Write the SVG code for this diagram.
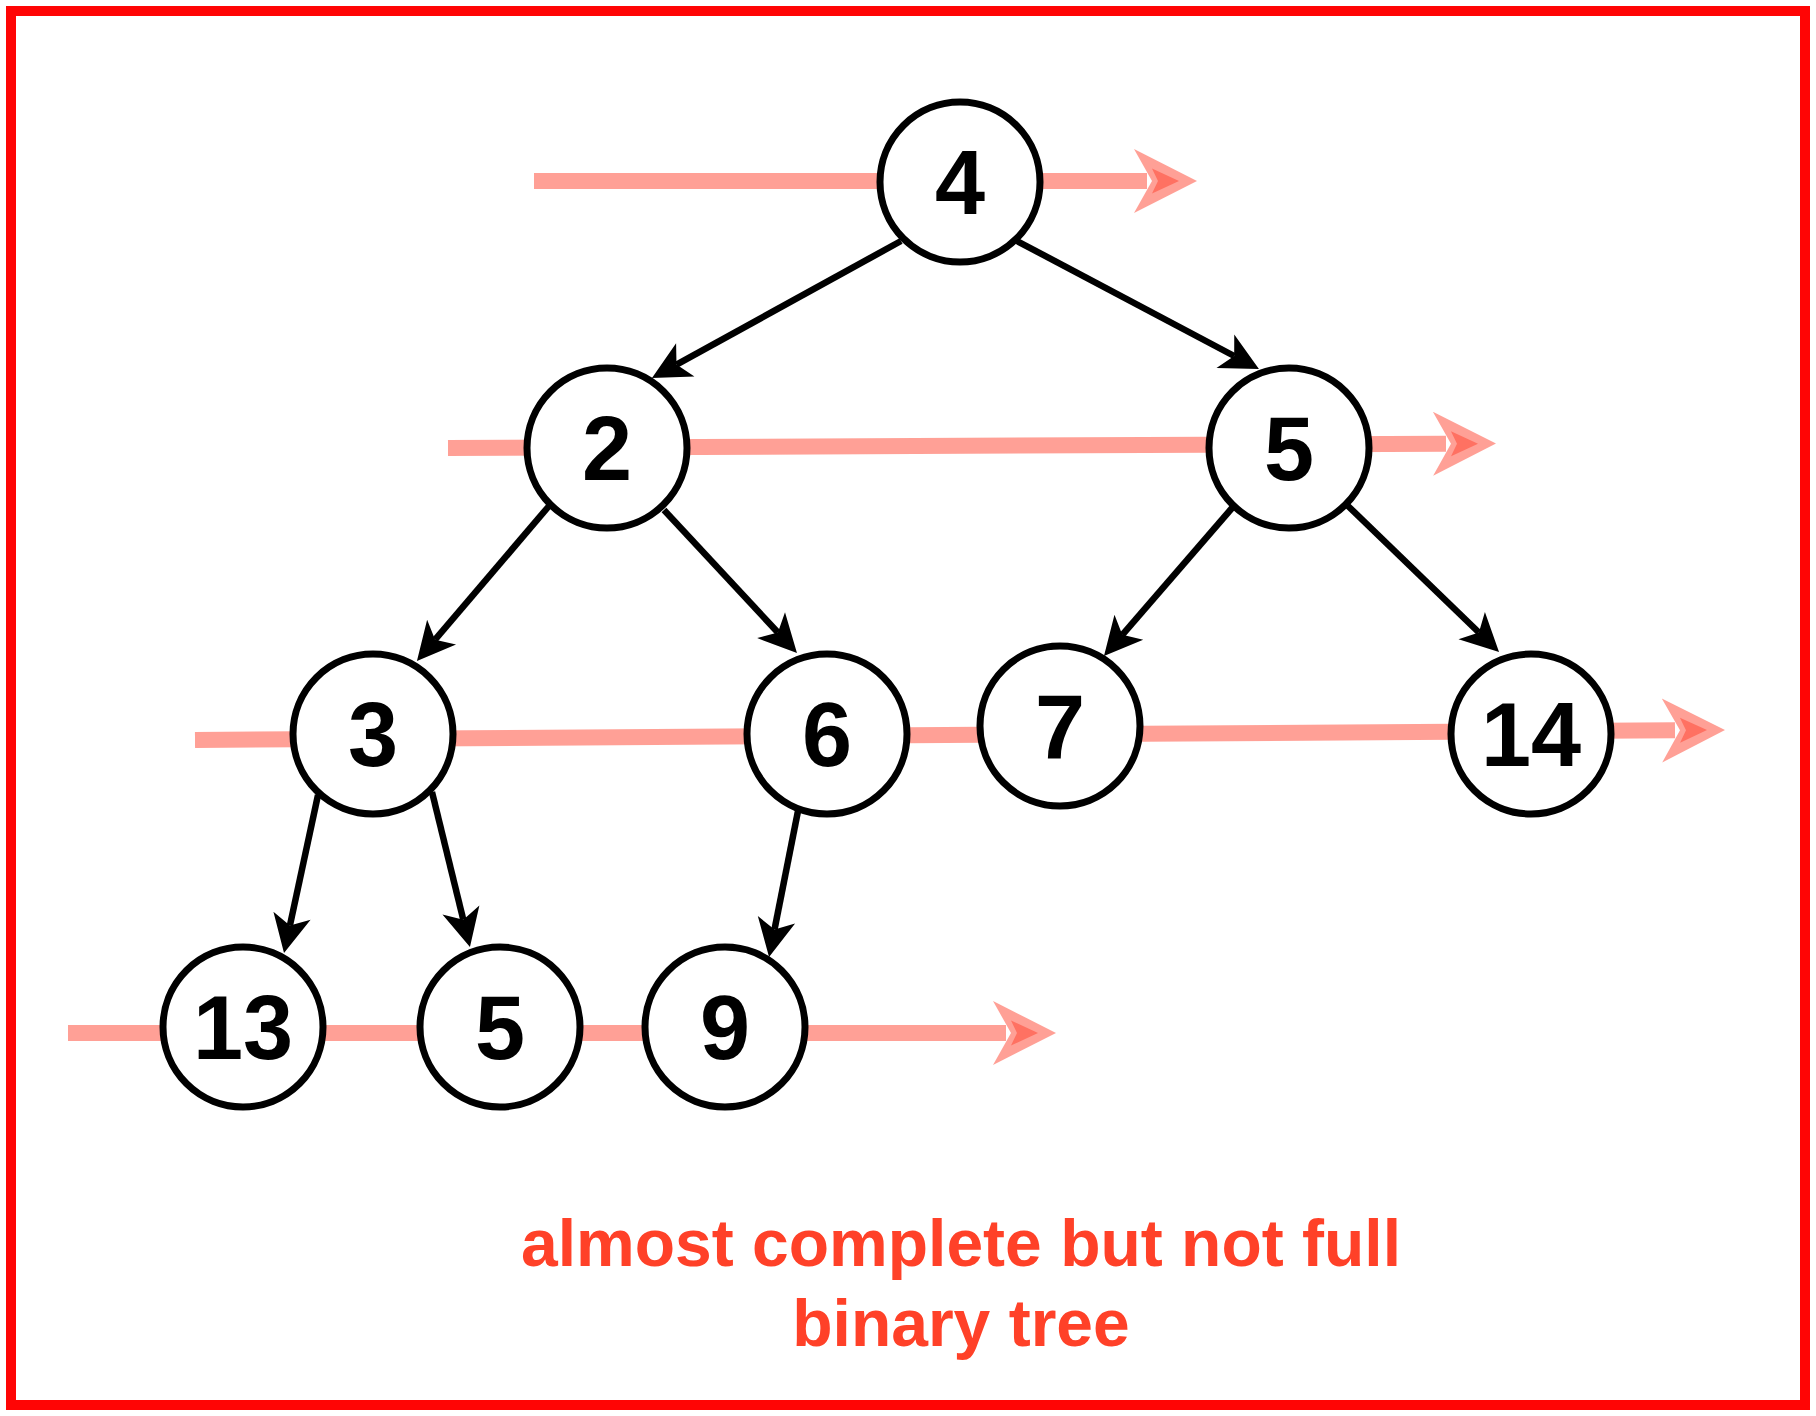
<svg xmlns="http://www.w3.org/2000/svg" width="1816" height="1416" viewBox="0 0 1816 1416">
<style>
.frame{fill:#ffffff;stroke:#ff0505;stroke-width:10}
.lvl{stroke:#ff412d;stroke-opacity:0.5;stroke-width:16;fill:none}
.edge{stroke:#000000;stroke-width:6.5;fill:none}
.node circle{fill:#ffffff;stroke:#000000;stroke-width:7}
.node text{font-family:"Liberation Sans",Arial,Helvetica,sans-serif;font-weight:bold;font-size:90px;text-anchor:middle;fill:#000000}
.caption{font-family:"Liberation Sans",Arial,Helvetica,sans-serif;font-weight:bold;font-size:66px;text-anchor:middle;fill:#ff4128}
</style>
<defs>
<marker id="pinkHead" markerUnits="userSpaceOnUse" markerWidth="64" markerHeight="64" viewBox="0 0 64 64" refX="13" refY="32" orient="auto" overflow="visible">
<path d="M0,0 L63,32 L0,64 L18,32 Z" fill="#ff412d" fill-opacity="0.5"/>
<path d="M18,19.5 L45,32 L18,44.5 L24,32 Z" fill="#ff412d" fill-opacity="0.5"/>
</marker>
<marker id="blackHead" markerUnits="userSpaceOnUse" markerWidth="38" markerHeight="38" viewBox="0 0 38 38" refX="10" refY="19" orient="auto" overflow="visible">
<path d="M0,0 L38,19 L0,38 L10,19 Z" fill="#000000"/>
</marker>
</defs>
<rect class="frame" x="11" y="11" width="1794" height="1394"/>
<g id="level-arrows">
<path class="lvl" d="M534,181 L1147,181" marker-end="url(#pinkHead)"/>
<path class="lvl" d="M448,448 L1446,443.8" marker-end="url(#pinkHead)"/>
<path class="lvl" d="M195,740 L1675,730.3" marker-end="url(#pinkHead)"/>
<path class="lvl" d="M68,1033 L1006,1033" marker-end="url(#pinkHead)"/>
</g>
<g id="connectors">
<path class="edge" d="M901,241 L676.5,364.6" marker-end="url(#blackHead)"/>
<path class="edge" d="M1017,241 L1234.2,356" marker-end="url(#blackHead)"/>
<path class="edge" d="M549,506 L435.1,639.7" marker-end="url(#blackHead)"/>
<path class="edge" d="M664,510 L777.9,632.5" marker-end="url(#blackHead)"/>
<path class="edge" d="M1232,508 L1122.3,634.8" marker-end="url(#blackHead)"/>
<path class="edge" d="M1348,506 L1478.9,632.5" marker-end="url(#blackHead)"/>
<path class="edge" d="M318,795 L289.9,925.6" marker-end="url(#blackHead)"/>
<path class="edge" d="M432,792 L463.3,919.8" marker-end="url(#blackHead)"/>
<path class="edge" d="M798,811 L774.5,929.5" marker-end="url(#blackHead)"/>
</g>
<g id="node-4" class="node"><circle cx="960" cy="182" r="80"/><text x="960" y="214">4</text></g>
<g id="node-2" class="node"><circle cx="607" cy="448" r="80"/><text x="607" y="480">2</text></g>
<g id="node-5" class="node"><circle cx="1289" cy="448" r="80"/><text x="1289" y="480">5</text></g>
<g id="node-3" class="node"><circle cx="373" cy="734" r="80"/><text x="373" y="766">3</text></g>
<g id="node-6" class="node"><circle cx="827" cy="734" r="80"/><text x="827" y="766">6</text></g>
<g id="node-7" class="node"><circle cx="1060" cy="726" r="80"/><text x="1060" y="758">7</text></g>
<g id="node-14" class="node"><circle cx="1531" cy="734" r="80"/><text x="1531" y="766">14</text></g>
<g id="node-13" class="node"><circle cx="243" cy="1027" r="80"/><text x="243" y="1059">13</text></g>
<g id="node-5b" class="node"><circle cx="500" cy="1027" r="80"/><text x="500" y="1059">5</text></g>
<g id="node-9" class="node"><circle cx="725" cy="1027" r="80"/><text x="725" y="1059">9</text></g>
<g id="caption">
<text class="caption" x="961" y="1266">almost complete but not full</text>
<text class="caption" x="961" y="1346">binary tree</text>
</g>
</svg>
